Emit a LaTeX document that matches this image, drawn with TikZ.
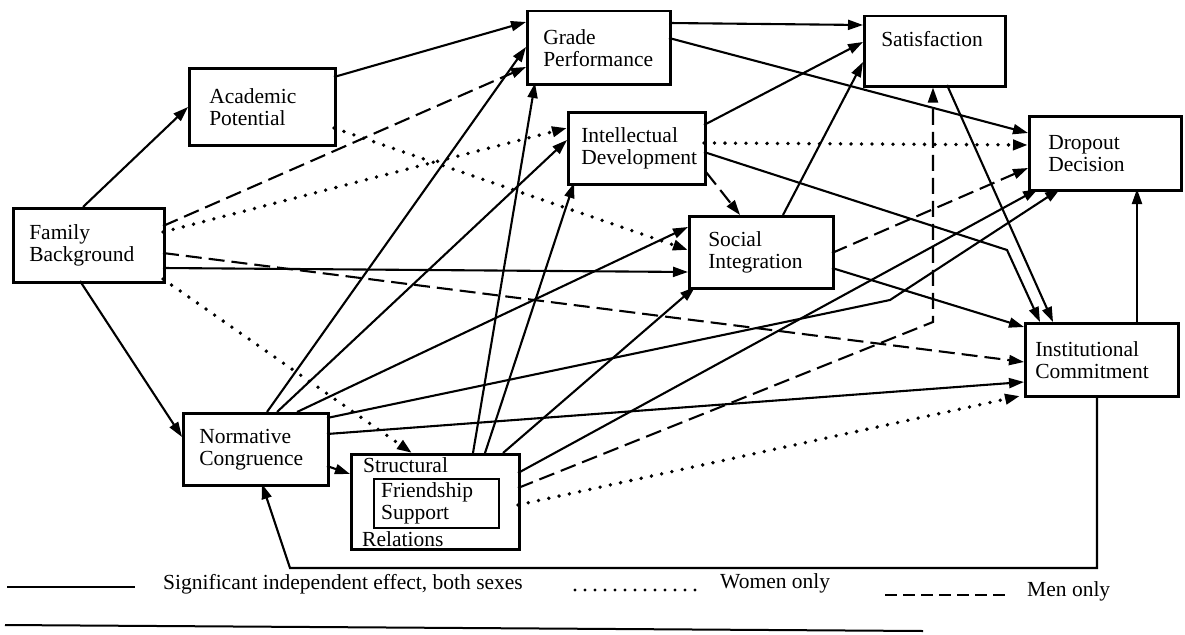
\documentclass[tikz,border=0pt]{standalone}
\usepackage{fontspec}
\setmainfont{Liberation Serif}
\usetikzlibrary{arrows.meta,calc}

\begin{document}
\begin{tikzpicture}[x=1pt,y=-1pt,
  every node/.style={font=\fontsize{21.5}{22}\selectfont},
  box/.style={draw, line width=2.5pt, anchor=north west, align=left, inner ysep=0pt},
  link/.style={line width=2.1pt, -{Triangle[length=15pt,width=10pt]}},
  both/.style={link},
  women/.style={link, line width=3.8pt, line cap=round, dash pattern=on 0pt off 10.5pt},
  men/.style={link, dash pattern=on 16pt off 7pt},
  legtext/.style={anchor=base west, inner sep=0pt},
]
\useasboundingbox (0,0) rectangle (1185,634);

% ---------- boxes ----------
\node[box, minimum width=151pt, minimum height=74pt, inner xsep=16pt, text width=119pt] (FB) at (12,207) {Family\\Background};
\node[box, minimum width=146pt, minimum height=77pt, inner xsep=20pt, text width=106pt] (AP) at (188,67) {Academic\\Potential};
\node[box, minimum width=143pt, minimum height=73pt, inner xsep=16pt, text width=111pt] (GP) at (526,10) {Grade\\Performance};
\node[box, minimum width=137pt, minimum height=72pt, inner xsep=13pt, text width=111pt] (ID) at (567,111) {Intellectual\\Development};
\node[box, minimum width=144pt, minimum height=72pt, inner xsep=19pt, text width=106pt] (SI) at (688,215) {Social\\Integration};
\node[box, minimum width=141pt, minimum height=70pt, inner xsep=17pt, text width=107pt, text depth=24pt] (Sat) at (863,15) {Satisfaction};
\node[box, minimum width=152pt, minimum height=74pt, inner xsep=19pt, text width=114pt] (DD) at (1028,115) {Dropout\\Decision};
\node[box, minimum width=153pt, minimum height=73pt, inner xsep=10pt, text width=133pt] (IC) at (1024,322) {Institutional\\Commitment};
\node[box, minimum width=145pt, minimum height=72pt, inner xsep=16pt, text width=113pt] (NC) at (182,412) {Normative\\Congruence};

% structural relations with the inner friendship support box
\node[box, minimum width=168pt, minimum height=95pt] (SR) at (350,453) {};
\node[legtext] (SRa) at ($(SR.north west)+(13,19)$) {Structural};
\node[legtext] (SRb) at ($(SR.south west)+(12,-4)$) {Relations};
\node[box, line width=2.1pt, minimum width=125pt, minimum height=49pt, inner xsep=7pt, text width=111pt] (FS) at (373,478) {Friendship\\Support};

% ---------- bend points ----------
\coordinate (bendID) at (1007,250);
\coordinate (bendNC) at (890,300);
\coordinate (bendSR) at (933,322);
\coordinate (loopL) at (290,568);

% ---------- significant for both sexes ----------
\draw[both] ($(FB.north west)+(71,0)$) -- ($(AP.north west)+(0,40)$);
\draw[both] ($(FB.north west)+(68,74)$) -- ($(NC.north west)+(0,25)$);
\draw[both] ($(FB.north west)+(151,61)$) -- ($(SI.north west)+(0,57)$);
\draw[both] ($(AP.north west)+(146,10)$) -- ($(GP.north west)+(0,12)$);
\draw[both] ($(GP.north west)+(143,13)$) -- ($(Sat.north west)+(0,10)$);
\draw[both] ($(GP.north west)+(143,28)$) -- ($(DD.north west)+(0,18)$);
\draw[both] ($(ID.north west)+(137,14)$) -- ($(Sat.north west)+(0,27)$);
\draw[both] ($(ID.north west)+(137,41)$) -- (bendID) -- ($(IC.north west)+(16,0)$);
\draw[both] ($(Sat.north west)+(84,70)$) -- ($(IC.north west)+(29,0)$);
\draw[both] ($(SI.north west)+(95,0)$) -- ($(Sat.north west)+(0,47)$);
\draw[both] ($(SI.north west)+(144,53)$) -- ($(IC.north west)+(0,5)$);
\draw[both] ($(IC.north west)+(113,0)$) -- ($(DD.north west)+(109,74)$);
\draw[both] ($(NC.north west)+(85,0)$) -- ($(GP.north west)+(0,37)$);
\draw[both] ($(NC.north west)+(95,0)$) -- ($(ID.north west)+(0,29)$);
\draw[both] ($(NC.north west)+(115,0)$) -- ($(SI.north west)+(0,12)$);
\draw[both] ($(NC.north west)+(145,6)$) -- (bendNC) -- ($(DD.north west)+(32,74)$);
\draw[both] ($(NC.north west)+(145,22)$) -- ($(IC.north west)+(0,60)$);
\draw[both] ($(NC.north west)+(145,54)$) -- ($(SR.north west)+(0,21)$);
\draw[both] ($(SR.north west)+(123,0)$) -- ($(GP.north west)+(9,73)$);
\draw[both] ($(SR.north west)+(135,0)$) -- ($(ID.north west)+(7,72)$);
\draw[both] ($(SR.north west)+(153,0)$) -- ($(SI.north west)+(7,72)$);
\draw[both] ($(SR.north west)+(168,20)$) -- ($(DD.north west)+(10,74)$);
\draw[both] ($(IC.north west)+(73,73)$) coordinate (icout) -- (icout |- loopL) -- (loopL) -- ($(NC.north west)+(80,72)$);

% ---------- men only ----------
\draw[men] ($(FB.north west)+(151,19)$) -- ($(GP.north west)+(0,57)$);
\draw[men] ($(FB.north west)+(151,46)$) -- ($(IC.north west)+(0,40)$);
\draw[men] ($(ID.north west)+(139,61)$) -- ($(SI.north west)+(52,0)$);
\draw[men] ($(SI.north west)+(144,38)$) -- ($(DD.north west)+(0,53)$);
\draw[men] ($(SR.north west)+(168,35)$) -- (bendSR) -- (bendSR |- Sat.south);

% ---------- women only ----------
\draw[women] ($(FB.north west)+(151,25)$) -- ($(ID.north west)+(0,17)$);
\draw[women] ($(FB.north west)+(151,72)$) -- ($(SR.north west)+(62,0)$);
\draw[women] ($(AP.north west)+(146,61)$) -- ($(SI.north west)+(0,35)$);
\draw[women] ($(ID.north west)+(137,32)$) -- ($(DD.north west)+(0,30)$);
\draw[women] ($(SR.north west)+(168,52)$) -- ($(IC.north west)+(-4,74)$);

% ---------- key ----------
\draw[line width=2.1pt] (7,587) -- (135,587);
\node[legtext] (keyBoth) at (163,589) {Significant independent effect, both sexes};
\draw[line width=3.2pt, line cap=round, dash pattern=on 0pt off 10pt] (575,590) -- (703,590);
\node[legtext] (keyWomen) at (720,588) {Women only};
\draw[line width=2.1pt, dash pattern=on 12pt off 6pt] (885,595) -- (1010,595);
\node[legtext] (keyMen) at (1027,596) {Men only};
\draw[line width=2pt] (5,625) -- (923,631);
\end{tikzpicture}
\end{document}
